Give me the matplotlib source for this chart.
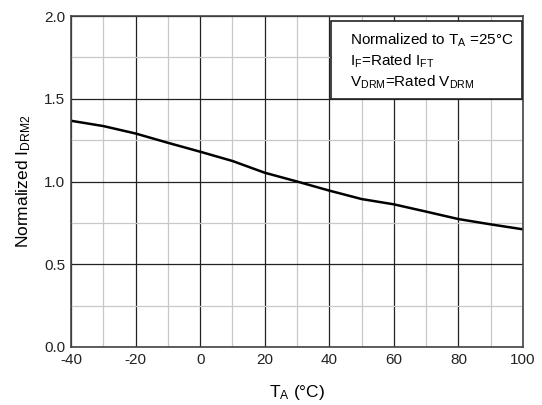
import numpy as np
import matplotlib
matplotlib.use('Agg')
import matplotlib.pyplot as plt
from matplotlib.ticker import MultipleLocator
from matplotlib.patches import Rectangle

plt.rcParams['font.family'] = ['Liberation Sans', 'DejaVu Sans']
plt.rcParams['mathtext.fontset'] = 'custom'
plt.rcParams['mathtext.rm'] = 'Liberation Sans'
plt.rcParams['mathtext.it'] = 'Liberation Sans'
plt.rcParams['axes.unicode_minus'] = False

# curve
temp = [-40, -30, -20, -10, 0, 10, 20, 30, 40, 50, 60, 70, 80, 90, 100]
idrm = [1.367, 1.335, 1.29, 1.234, 1.18, 1.124, 1.053, 1.0, 0.945, 0.894,
        0.862, 0.818, 0.773, 0.741, 0.711]

x_ticks = [-40, -20, 0, 20, 40, 60, 80, 100]
y_ticks = [0.0, 0.5, 1.0, 1.5, 2.0]

note_lines = [r'Normalized to T$_\mathrm{A}$ =25°C',
              r'I$_\mathrm{F}$=Rated I$_\mathrm{FT}$',
              r'V$_\mathrm{DRM}$=Rated V$_\mathrm{DRM}$']

fig = plt.figure(figsize=(5.42, 4.05), dpi=100)
ax = fig.add_axes([71 / 542, 1 - 347 / 405, (523 - 71) / 542, (347 - 16) / 405])

ax.plot(temp, idrm, color='black', lw=1.8)

ax.set_xlim(-40, 100)
ax.set_ylim(0, 2.0)
ax.set_xticks(x_ticks)
ax.set_yticks(y_ticks)
ax.set_yticklabels(['%.1f' % v for v in y_ticks])
ax.xaxis.set_minor_locator(MultipleLocator(10))
ax.yaxis.set_minor_locator(MultipleLocator(0.25))
ax.grid(which='major', color='#222222', lw=0.9)
ax.grid(which='minor', color='#c8c8c8', lw=0.9)
ax.set_axisbelow(True)
ax.tick_params(which='both', length=0, labelsize=11, colors='#222222', pad=4)
for s in ax.spines.values():
    s.set_color('#444444')
    s.set_linewidth(1.2)

ax.set_xlabel(r'T$_\mathrm{A}$ (°C)', fontsize=12.5, labelpad=12)
ax.set_ylabel(r'Normalized I$_\mathrm{DRM2}$', fontsize=12.5, labelpad=8)

# note box in the upper right corner
ax.add_patch(Rectangle((0.575, 0.749), 0.423, 0.236, transform=ax.transAxes,
                       fc='white', ec='#222222', lw=1.2, zorder=3))
for i, line in enumerate(note_lines):
    ax.text(0.617, 0.927 - i * 0.0635, line, transform=ax.transAxes,
            fontsize=11, va='center', ha='left', zorder=4)

fig.savefig('out.png', dpi=100)
